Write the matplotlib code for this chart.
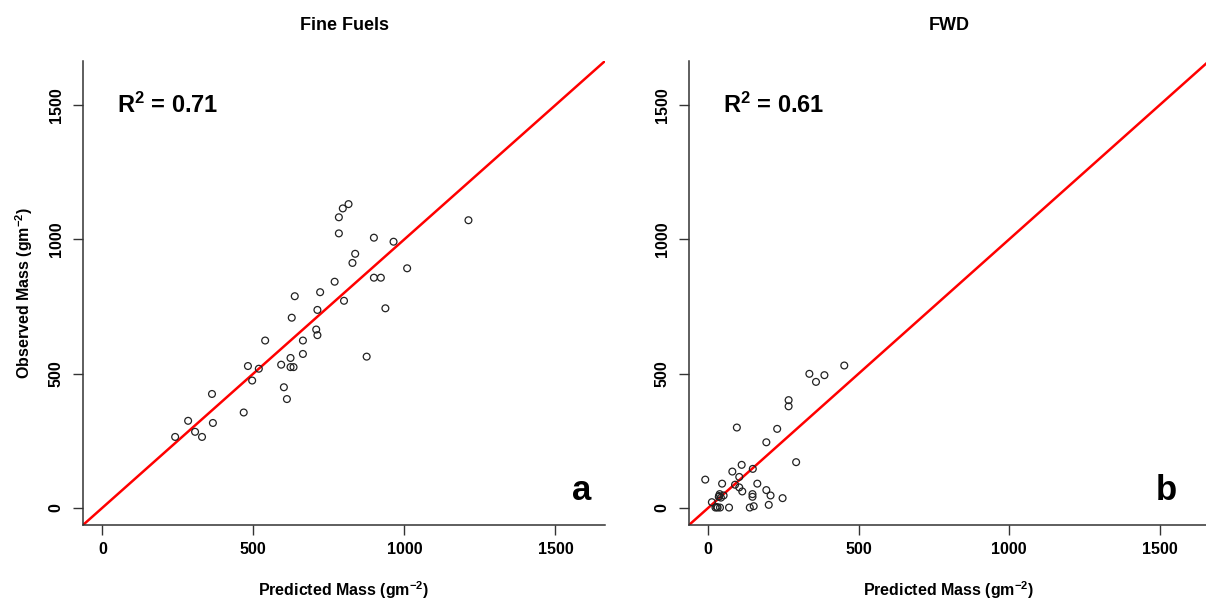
import numpy as np
import matplotlib
matplotlib.use("Agg")
from matplotlib import pyplot as plt

plt.rcParams['font.family'] = ['Liberation Sans', 'DejaVu Sans']
plt.rcParams['font.weight'] = 'bold'
plt.rcParams['mathtext.fontset'] = 'custom'
plt.rcParams['mathtext.rm'] = 'Liberation Sans:bold'
plt.rcParams['mathtext.bf'] = 'Liberation Sans:bold'
plt.rcParams['mathtext.default'] = 'bf'

# Fine fuels: predicted vs observed mass (g m-2)
fine_pred = [815, 796, 783, 783, 1212, 899, 964, 837, 828, 1009, 899, 922, 769, 721,
             637, 800, 712, 937, 627, 708, 712, 539, 664, 664, 875, 623, 592, 623,
             633, 482, 518, 496, 601, 611, 468, 241, 284, 307, 330, 366, 363]
fine_obs = [1131, 1115, 1082, 1022, 1071, 1006, 991, 946, 912, 892, 857, 857, 842, 803,
            788, 771, 737, 743, 708, 664, 643, 623, 623, 573, 563, 558, 533, 524,
            524, 528, 518, 474, 449, 405, 355, 264, 324, 283, 264, 316, 424]

# FWD: predicted vs observed mass (g m-2)
fwd_pred = [452, 336, 386, 358, 267, 267, 95, 229, 193, 292, 111, 148, 80, -10, 103,
            46, 89, 163, 103, 113, 193, 207, 247, 147, 147, 38, 51, 35, 12, 24, 39,
            69, 138, 151, 201, 31, 28, 36, 42]
fwd_obs = [530, 499, 494, 469, 401, 378, 299, 294, 244, 170, 160, 145, 135, 105, 115,
           90, 86, 90, 76, 61, 66, 46, 36, 51, 41, 51, 46, 41, 21, 1, 1,
           1, 1, 6, 11, 1, 3, 44, 38]

titles = ["Fine Fuels", "FWD"]
r2_text = [r"R$^{2}$ = 0.71", r"R$^{2}$ = 0.61"]
panel_tags = ["a", "b"]
ticks = [0, 500, 1000, 1500]
lim = (-64, 1664)

fig = plt.figure(figsize=(12.06, 6.03), dpi=100)
ax1 = fig.add_axes([83 / 1206, 78 / 603, 522 / 1206, 464 / 603])
ax2 = fig.add_axes([689 / 1206, 78 / 603, 520 / 1206, 464 / 603])

data = [(fine_pred, fine_obs), (fwd_pred, fwd_obs)]
tag_x = [0.955, 0.918]

for i, ax in enumerate([ax1, ax2]):
    xs, ys = data[i]
    ax.set_xlim(lim)
    ax.set_ylim(lim)
    ax.plot(lim, lim, color='#ff0000', lw=1.8, zorder=2)
    ax.scatter(xs, ys, s=24, facecolors='none', edgecolors='#222222',
               linewidths=0.9, zorder=3)

    for side in ['top', 'right']:
        ax.spines[side].set_visible(False)
    for side in ['left', 'bottom']:
        ax.spines[side].set_color('#333333')
        ax.spines[side].set_linewidth(1.1)

    ax.set_xticks(ticks)
    ax.set_yticks(ticks)
    ax.tick_params(direction='out', length=7, width=1.0, color='#333333',
                   labelsize=11.5, pad=5)
    ax.tick_params(axis='y', pad=7)
    for lab in ax.get_yticklabels():
        lab.set_rotation(90)
        lab.set_va('center')
    for lab in ax.get_xticklabels() + ax.get_yticklabels():
        lab.set_fontweight('bold')

    ax.set_title(titles[i], fontsize=13, fontweight='bold', pad=22)
    ax.set_xlabel(r"Predicted Mass (gm$^{-2}$)", fontsize=11.5, fontweight='bold', labelpad=16)
    ax.text(50, 1500, r2_text[i], fontsize=17, fontweight='bold', ha='left', va='center')
    ax.text(tag_x[i], 0.075, panel_tags[i], transform=ax.transAxes, fontsize=25,
            fontweight='bold', ha='center', va='center')

ax1.set_ylabel(r"Observed Mass (gm$^{-2}$)", fontsize=11.5, fontweight='bold', labelpad=10)

fig.savefig("out.png", dpi=100)
